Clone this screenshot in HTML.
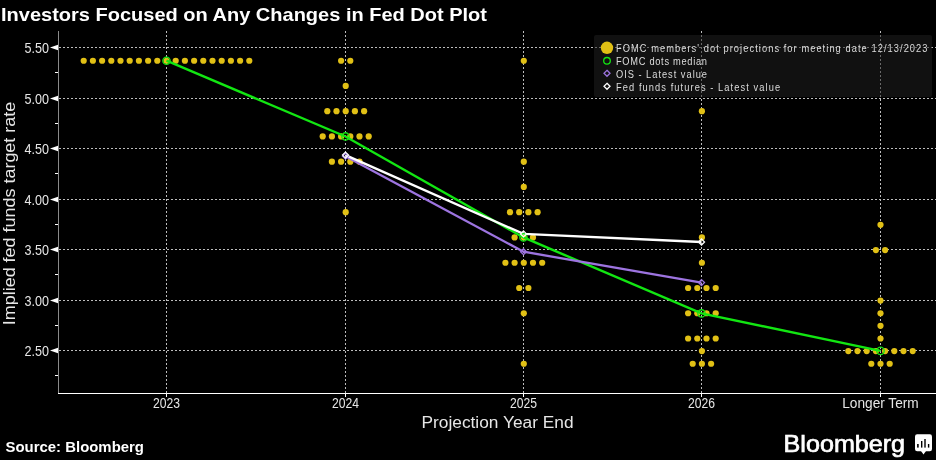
<!DOCTYPE html>
<html><head><meta charset="utf-8"><style>
html,body{margin:0;padding:0;background:#000;width:936px;height:460px;overflow:hidden}
svg{display:block;will-change:transform}
text{font-family:"Liberation Sans",sans-serif}
</style></head><body>
<svg width="936" height="460" viewBox="0 0 936 460">
<rect width="936" height="460" fill="#000"/>

<text x="1" y="20.8" font-size="17.8" font-weight="bold" fill="#fff" textLength="486" lengthAdjust="spacingAndGlyphs">Investors Focused on Any Changes in Fed Dot Plot</text>
<g stroke="#bcbcbc" stroke-width="1" stroke-dasharray="2 2" shape-rendering="crispEdges"><line x1="59" y1="47.5" x2="936" y2="47.5"/><line x1="59" y1="98.5" x2="936" y2="98.5"/><line x1="59" y1="148.5" x2="936" y2="148.5"/><line x1="59" y1="199.5" x2="936" y2="199.5"/><line x1="59" y1="249.5" x2="936" y2="249.5"/><line x1="59" y1="300.5" x2="936" y2="300.5"/><line x1="59" y1="350.5" x2="936" y2="350.5"/><line x1="166.5" y1="31" x2="166.5" y2="393"/><line x1="345.5" y1="31" x2="345.5" y2="393"/><line x1="523.5" y1="31" x2="523.5" y2="393"/><line x1="701.5" y1="31" x2="701.5" y2="393"/><line x1="880.5" y1="31" x2="880.5" y2="393"/></g>
<rect x="594" y="35" width="338" height="62" rx="2" fill="#202020" fill-opacity="0.53"/>
<line x1="58.5" y1="31" x2="58.5" y2="393" stroke="#8a8a8a" stroke-width="1" shape-rendering="crispEdges"/>
<line x1="58" y1="393.5" x2="936" y2="393.5" stroke="#fff" stroke-width="1" shape-rendering="crispEdges"/>
<line x1="166.5" y1="393" x2="166.5" y2="397" stroke="#fff" stroke-width="1" shape-rendering="crispEdges"/>
<line x1="345.5" y1="393" x2="345.5" y2="397" stroke="#fff" stroke-width="1" shape-rendering="crispEdges"/>
<line x1="523.5" y1="393" x2="523.5" y2="397" stroke="#fff" stroke-width="1" shape-rendering="crispEdges"/>
<line x1="701.5" y1="393" x2="701.5" y2="397" stroke="#fff" stroke-width="1" shape-rendering="crispEdges"/>
<line x1="880.5" y1="393" x2="880.5" y2="397" stroke="#fff" stroke-width="1" shape-rendering="crispEdges"/>
<path d="M50 47.5 L58 44.8 L58 50.2 Z" fill="#fff"/>
<path d="M50 98.5 L58 95.8 L58 101.2 Z" fill="#fff"/>
<path d="M50 148.5 L58 145.8 L58 151.2 Z" fill="#fff"/>
<path d="M50 199.5 L58 196.8 L58 202.2 Z" fill="#fff"/>
<path d="M50 249.5 L58 246.8 L58 252.2 Z" fill="#fff"/>
<path d="M50 300.5 L58 297.8 L58 303.2 Z" fill="#fff"/>
<path d="M50 350.5 L58 347.8 L58 353.2 Z" fill="#fff"/>
<rect x="55" y="72" width="3" height="1" fill="#fff"/>
<rect x="55" y="123" width="3" height="1" fill="#fff"/>
<rect x="55" y="173" width="3" height="1" fill="#fff"/>
<rect x="55" y="224" width="3" height="1" fill="#fff"/>
<rect x="55" y="274" width="3" height="1" fill="#fff"/>
<rect x="55" y="325" width="3" height="1" fill="#fff"/>
<rect x="55" y="375" width="3" height="1" fill="#fff"/>
<text x="49" y="53" font-size="14" fill="#e6e6e6" text-anchor="end" textLength="24.5" lengthAdjust="spacingAndGlyphs">5.50</text>
<text x="49" y="104" font-size="14" fill="#e6e6e6" text-anchor="end" textLength="24.5" lengthAdjust="spacingAndGlyphs">5.00</text>
<text x="49" y="154" font-size="14" fill="#e6e6e6" text-anchor="end" textLength="24.5" lengthAdjust="spacingAndGlyphs">4.50</text>
<text x="49" y="205" font-size="14" fill="#e6e6e6" text-anchor="end" textLength="24.5" lengthAdjust="spacingAndGlyphs">4.00</text>
<text x="49" y="255" font-size="14" fill="#e6e6e6" text-anchor="end" textLength="24.5" lengthAdjust="spacingAndGlyphs">3.50</text>
<text x="49" y="306" font-size="14" fill="#e6e6e6" text-anchor="end" textLength="24.5" lengthAdjust="spacingAndGlyphs">3.00</text>
<text x="49" y="356" font-size="14" fill="#e6e6e6" text-anchor="end" textLength="24.5" lengthAdjust="spacingAndGlyphs">2.50</text>
<text x="166.5" y="407.8" font-size="14" fill="#e6e6e6" text-anchor="middle" textLength="27" lengthAdjust="spacingAndGlyphs">2023</text>
<text x="345.5" y="407.8" font-size="14" fill="#e6e6e6" text-anchor="middle" textLength="27" lengthAdjust="spacingAndGlyphs">2024</text>
<text x="523.5" y="407.8" font-size="14" fill="#e6e6e6" text-anchor="middle" textLength="27" lengthAdjust="spacingAndGlyphs">2025</text>
<text x="701.5" y="407.8" font-size="14" fill="#e6e6e6" text-anchor="middle" textLength="27" lengthAdjust="spacingAndGlyphs">2026</text>
<text x="880.5" y="407.8" font-size="14" fill="#e6e6e6" text-anchor="middle" textLength="76.5" lengthAdjust="spacingAndGlyphs">Longer Term</text>
<text x="497.5" y="427.5" font-size="16" fill="#e6e6e6" text-anchor="middle" textLength="152" lengthAdjust="spacingAndGlyphs">Projection Year End</text>
<text transform="translate(15,213.5) rotate(-90)" x="0" y="0" font-size="16.5" fill="#e6e6e6" text-anchor="middle" textLength="223.5" lengthAdjust="spacingAndGlyphs">Implied fed funds target rate</text>
<g fill="#e1c015"><circle cx="83.70" cy="60.73" r="3.1"/><circle cx="92.90" cy="60.73" r="3.1"/><circle cx="102.10" cy="60.73" r="3.1"/><circle cx="111.30" cy="60.73" r="3.1"/><circle cx="120.50" cy="60.73" r="3.1"/><circle cx="129.70" cy="60.73" r="3.1"/><circle cx="138.90" cy="60.73" r="3.1"/><circle cx="148.10" cy="60.73" r="3.1"/><circle cx="157.30" cy="60.73" r="3.1"/><circle cx="166.50" cy="60.73" r="3.1"/><circle cx="175.70" cy="60.73" r="3.1"/><circle cx="184.90" cy="60.73" r="3.1"/><circle cx="194.10" cy="60.73" r="3.1"/><circle cx="203.30" cy="60.73" r="3.1"/><circle cx="212.50" cy="60.73" r="3.1"/><circle cx="221.70" cy="60.73" r="3.1"/><circle cx="230.90" cy="60.73" r="3.1"/><circle cx="240.10" cy="60.73" r="3.1"/><circle cx="249.30" cy="60.73" r="3.1"/><circle cx="341.10" cy="60.73" r="3.1"/><circle cx="350.30" cy="60.73" r="3.1"/><circle cx="345.70" cy="85.97" r="3.1"/><circle cx="327.30" cy="111.22" r="3.1"/><circle cx="336.50" cy="111.22" r="3.1"/><circle cx="345.70" cy="111.22" r="3.1"/><circle cx="354.90" cy="111.22" r="3.1"/><circle cx="364.10" cy="111.22" r="3.1"/><circle cx="322.70" cy="136.47" r="3.1"/><circle cx="331.90" cy="136.47" r="3.1"/><circle cx="341.10" cy="136.47" r="3.1"/><circle cx="350.30" cy="136.47" r="3.1"/><circle cx="359.50" cy="136.47" r="3.1"/><circle cx="368.70" cy="136.47" r="3.1"/><circle cx="331.90" cy="161.72" r="3.1"/><circle cx="341.10" cy="161.72" r="3.1"/><circle cx="350.30" cy="161.72" r="3.1"/><circle cx="359.50" cy="161.72" r="3.1"/><circle cx="345.70" cy="212.22" r="3.1"/><circle cx="523.80" cy="60.73" r="3.1"/><circle cx="523.80" cy="161.72" r="3.1"/><circle cx="523.80" cy="186.97" r="3.1"/><circle cx="510.00" cy="212.22" r="3.1"/><circle cx="519.20" cy="212.22" r="3.1"/><circle cx="528.40" cy="212.22" r="3.1"/><circle cx="537.60" cy="212.22" r="3.1"/><circle cx="514.60" cy="237.47" r="3.1"/><circle cx="523.80" cy="237.47" r="3.1"/><circle cx="533.00" cy="237.47" r="3.1"/><circle cx="505.40" cy="262.73" r="3.1"/><circle cx="514.60" cy="262.73" r="3.1"/><circle cx="523.80" cy="262.73" r="3.1"/><circle cx="533.00" cy="262.73" r="3.1"/><circle cx="542.20" cy="262.73" r="3.1"/><circle cx="519.20" cy="287.98" r="3.1"/><circle cx="528.40" cy="287.98" r="3.1"/><circle cx="523.80" cy="313.23" r="3.1"/><circle cx="523.80" cy="363.73" r="3.1"/><circle cx="701.90" cy="111.22" r="3.1"/><circle cx="701.90" cy="237.47" r="3.1"/><circle cx="701.90" cy="262.73" r="3.1"/><circle cx="688.10" cy="287.98" r="3.1"/><circle cx="697.30" cy="287.98" r="3.1"/><circle cx="706.50" cy="287.98" r="3.1"/><circle cx="715.70" cy="287.98" r="3.1"/><circle cx="688.10" cy="313.23" r="3.1"/><circle cx="697.30" cy="313.23" r="3.1"/><circle cx="706.50" cy="313.23" r="3.1"/><circle cx="715.70" cy="313.23" r="3.1"/><circle cx="688.10" cy="338.48" r="3.1"/><circle cx="697.30" cy="338.48" r="3.1"/><circle cx="706.50" cy="338.48" r="3.1"/><circle cx="715.70" cy="338.48" r="3.1"/><circle cx="701.90" cy="351.10" r="3.1"/><circle cx="692.70" cy="363.73" r="3.1"/><circle cx="701.90" cy="363.73" r="3.1"/><circle cx="711.10" cy="363.73" r="3.1"/><circle cx="880.50" cy="224.85" r="3.1"/><circle cx="875.90" cy="250.10" r="3.1"/><circle cx="885.10" cy="250.10" r="3.1"/><circle cx="880.50" cy="300.60" r="3.1"/><circle cx="880.50" cy="313.23" r="3.1"/><circle cx="880.50" cy="325.85" r="3.1"/><circle cx="880.50" cy="338.48" r="3.1"/><circle cx="848.30" cy="351.10" r="3.1"/><circle cx="857.50" cy="351.10" r="3.1"/><circle cx="866.70" cy="351.10" r="3.1"/><circle cx="875.90" cy="351.10" r="3.1"/><circle cx="885.10" cy="351.10" r="3.1"/><circle cx="894.30" cy="351.10" r="3.1"/><circle cx="903.50" cy="351.10" r="3.1"/><circle cx="912.70" cy="351.10" r="3.1"/><circle cx="871.30" cy="363.73" r="3.1"/><circle cx="880.50" cy="363.73" r="3.1"/><circle cx="889.70" cy="363.73" r="3.1"/></g>
<polyline points="166.50,60.73 345.50,136.47 523.50,237.47 701.50,313.43 880.50,350.90" fill="none" stroke="#12e612" stroke-width="2.4"/>
<polyline points="345.50,156.20 523.50,251.70 701.50,282.60" fill="none" stroke="#9d74e0" stroke-width="2.3"/>
<polyline points="345.50,155.10 523.50,233.90 701.50,242.00" fill="none" stroke="#fff" stroke-width="2.3"/>
<circle cx="166.5" cy="60.73" r="3.7" fill="none" stroke="#12e612" stroke-width="1.3"/>
<circle cx="345.5" cy="136.47" r="3.7" fill="none" stroke="#12e612" stroke-width="1.3"/>
<circle cx="523.5" cy="237.47" r="3.7" fill="none" stroke="#12e612" stroke-width="1.3"/>
<circle cx="701.5" cy="313.43" r="3.7" fill="none" stroke="#12e612" stroke-width="1.3"/>
<circle cx="880.5" cy="350.90" r="3.7" fill="none" stroke="#12e612" stroke-width="1.3"/>
<path d="M345.5 153.2 L348.5 156.2 L345.5 159.2 L342.5 156.2 Z" fill="none" stroke="#9d74e0" stroke-width="1.3"/>
<path d="M523.5 248.7 L526.5 251.7 L523.5 254.7 L520.5 251.7 Z" fill="none" stroke="#9d74e0" stroke-width="1.3"/>
<path d="M701.5 279.6 L704.5 282.6 L701.5 285.6 L698.5 282.6 Z" fill="none" stroke="#9d74e0" stroke-width="1.3"/>
<path d="M345.5 152.1 L348.5 155.1 L345.5 158.1 L342.5 155.1 Z" fill="none" stroke="#fff" stroke-width="1.3"/>
<path d="M523.5 230.9 L526.5 233.9 L523.5 236.9 L520.5 233.9 Z" fill="none" stroke="#fff" stroke-width="1.3"/>
<path d="M701.5 239.0 L704.5 242.0 L701.5 245.0 L698.5 242.0 Z" fill="none" stroke="#fff" stroke-width="1.3"/>
<circle cx="607" cy="47.8" r="6.2" fill="#e1c015"/>
<circle cx="607" cy="60.8" r="3.3" fill="none" stroke="#12e612" stroke-width="1.3"/>
<path d="M607 70.3 L610.0 73.3 L607 76.3 L604.0 73.3 Z" fill="none" stroke="#9d74e0" stroke-width="1.3"/>
<path d="M607 83.3 L610.0 86.3 L607 89.3 L604.0 86.3 Z" fill="none" stroke="#fff" stroke-width="1.3"/>
<text transform="translate(616,52.00) scale(0.93,1)" x="0" y="0" font-size="10" fill="#dcdcdc" textLength="334.95" lengthAdjust="spacing">FOMC members' dot projections for meeting date 12/13/2023</text>
<text transform="translate(616,64.90) scale(0.93,1)" x="0" y="0" font-size="10" fill="#dcdcdc" textLength="97.85" lengthAdjust="spacing">FOMC dots median</text>
<text transform="translate(616,77.80) scale(0.93,1)" x="0" y="0" font-size="10" fill="#dcdcdc" textLength="97.85" lengthAdjust="spacing">OIS - Latest value</text>
<text transform="translate(616,90.70) scale(0.93,1)" x="0" y="0" font-size="10" fill="#dcdcdc" textLength="176.45" lengthAdjust="spacing">Fed funds futures - Latest value</text>
<text x="5.5" y="451.6" font-size="14.2" font-weight="bold" fill="#fff" textLength="138.5" lengthAdjust="spacingAndGlyphs">Source: Bloomberg</text>
<text x="783.6" y="452.3" font-size="24" fill="#fff" stroke="#fff" stroke-width="0.7" textLength="121.5" lengthAdjust="spacingAndGlyphs">Bloomberg</text>
<g transform="translate(915,434.2)"><rect x="0" y="0" width="17" height="17" rx="2.2" fill="#fff"/><path d="M5.8 16.5 L8.5 20.3 L11.2 16.5Z" fill="#fff"/><rect x="2.1" y="9.8" width="1.6" height="3.6" fill="#000"/><rect x="6" y="6.8" width="1.4" height="6.6" fill="#000"/><rect x="9.3" y="4.8" width="1.4" height="8.6" fill="#000"/><rect x="12.9" y="9.8" width="1.4" height="3.6" fill="#000"/></g>
</svg></body></html>
